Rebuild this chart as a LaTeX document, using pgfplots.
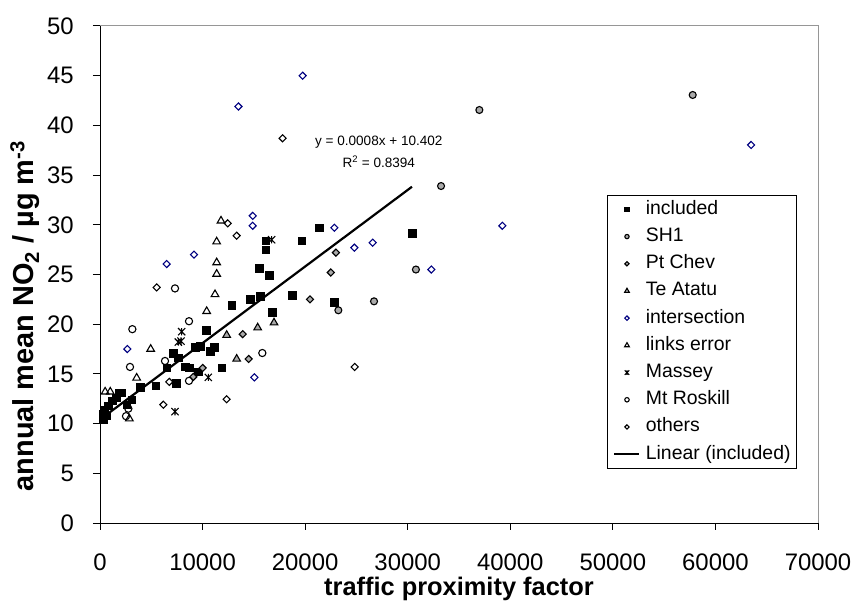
\documentclass[border=0pt]{standalone}
\usepackage{fontspec}
\setmainfont{Liberation Sans}
\usepackage{pgfplots}
\pgfplotsset{compat=1.18}
\definecolor{mygray}{RGB}{170,170,170}
\definecolor{navy}{RGB}{0,0,128}
\definecolor{bordergray}{RGB}{150,150,150}
\pgfdeclareplotmark{xstar}{%
 \pgfpathmoveto{\pgfqpoint{-\pgfplotmarksize}{-\pgfplotmarksize}}\pgfpathlineto{\pgfqpoint{\pgfplotmarksize}{\pgfplotmarksize}}%
 \pgfpathmoveto{\pgfqpoint{-\pgfplotmarksize}{\pgfplotmarksize}}\pgfpathlineto{\pgfqpoint{\pgfplotmarksize}{-\pgfplotmarksize}}%
 \pgfpathmoveto{\pgfqpoint{0pt}{-\pgfplotmarksize}}\pgfpathlineto{\pgfqpoint{0pt}{\pgfplotmarksize}}%
 \pgfusepathqstroke}
\pgfplotsset{
 legmark/.style={legend image code/.code={\draw[mark repeat=2,mark phase=2,##1,every mark/.append style={scale=0.62}] plot coordinates {(0bp,0bp) (12.5bp,0bp) (25bp,0bp)};}},
 legline/.style={legend image code/.code={\draw[##1] (0bp,0bp) -- (25bp,0bp);}},
 inc/.style={legmark,only marks, mark=square*, mark size=3.8bp, mark options={fill=black, draw=black, line width=0.6bp}},
 sh1/.style={legmark,only marks, mark=*, mark size=3.5bp, mark options={fill=mygray, draw=black, line width=1.1bp}},
 ptc/.style={legmark,only marks, mark=square*, mark size=2.5bp, mark options={rotate=45, fill=mygray, draw=black, line width=1.1bp}},
 tea/.style={legmark,only marks, mark=triangle*, mark size=4.4bp, mark options={fill=mygray, draw=black, line width=1.1bp}},
 int/.style={legmark,only marks, mark=square, mark size=2.5bp, mark options={rotate=45, draw=navy, line width=1.1bp}},
 lnk/.style={legmark,only marks, mark=triangle, mark size=4.4bp, mark options={draw=black, line width=1.1bp}},
 mas/.style={legmark,only marks, mark=xstar, mark size=3.6bp, mark options={draw=black, line width=1.1bp}},
 mtr/.style={legmark,only marks, mark=o, mark size=3.6bp, mark options={draw=black, line width=1.1bp}},
 oth/.style={legmark,only marks, mark=square, mark size=2.5bp, mark options={rotate=45, draw=black, line width=1.1bp}},
}
\begin{document}
\begin{tikzpicture}
\useasboundingbox (0,0) rectangle (852bp,602bp);
\begin{axis}[
 at={(100bp,79bp)}, anchor=south west,
 scale only axis, width=718bp, height=497bp,
 xmin=0, xmax=70000, ymin=0, ymax=50,
 xtick={0,10000,...,70000}, ytick={0,5,...,50},
 scaled x ticks=false,
 /pgf/number format/.cd, 1000 sep={}, assume math mode=true, /pgfplots/.cd,
 axis lines=left, axis line style={-, black, line width=1bp},
 tick align=outside, major tick length=7bp, tick style={black, line width=1bp},
 ticklabel style={font=\fontsize{24}{28}\selectfont, inner sep=0pt},
 yticklabel style={anchor=east, xshift=-19bp},
 xticklabel style={anchor=north, yshift=-24bp},
 xlabel={\bfseries traffic proximity factor},
 ylabel={\bfseries annual mean NO\textsubscript{2} / µg m\textsuperscript{-3}},
 xlabel style={font=\fontsize{25.5}{30}\selectfont, at={(rel axis cs:0.5,0)}, anchor=base, yshift=-72bp},
 ylabel style={font=\fontsize{29}{34}\selectfont, at={(rel axis cs:-0.1045,0.4165)}, anchor=center},
 legend cell align=left,
 legend style={at={(rel axis cs:0.7061,0.6600)}, anchor=north west, draw=black, line width=0.8bp,
   font=\fontsize{19.5}{23}\selectfont, inner xsep=6bp, inner ysep=5bp,
   nodes={inner sep=0pt, text height=14bp, text depth=4bp}, row sep=9.2bp, column sep=5.3bp},
 clip=false,
 after end axis/.code={\draw[bordergray, line width=1bp] (rel axis cs:0,1) -- (rel axis cs:1,1) -- (rel axis cs:1,0);},
]
\addplot[inc] coordinates {
(300,10.4) (600,10.8) (300,11.0) (400,11.4) (800,11.8) (1200,12.3) (1600,12.6) (1900,13.1)
(12840,21.9) (14625,22.5) (15600,22.8) (16800,21.2) (10335,19.4) (9262,17.7) (9750,17.8)
(10725,17.3) (11115,17.7) (7150,17.1) (7637,16.6) (6500,15.6) (8287,15.7) (8710,15.6)
(9587,15.2) (11865,15.6) (7410,14.05) (5427,13.8) (3900,13.65) (2112,13.1) (3087,12.4)
(2600,11.9) (18750,22.9) (22815,22.2) (16152,28.4) (16152,27.5) (19662,28.4) (21385,29.7)
(15535,25.6) (16510,24.9) (30420,29.15)
};
\addlegendentry{included}
\addplot[sh1] coordinates {(23237,21.4) (26715,22.3) (36985,41.55) (33250,33.9) (57785,43.06) (30800,25.5)};
\addlegendentry{SH1}
\addplot[ptc] coordinates {(13910,19.0) (14495,16.5) (10010,15.6) (9100,14.7) (20475,22.5) (22500,25.2) (23000,27.2)};
\addlegendentry{Pt Chev}
\addplot[tea] coordinates {(16965,20.15) (12350,18.9) (15372,19.65) (13325,16.5)};
\addlegendentry{Te Atatu}
\addplot[int] coordinates {(2665,17.5) (15050,14.65) (14885,30.9) (14885,29.9) (9165,27.0) (6500,26.05) (19760,45.0) (22847,29.7) (39225,29.9) (26585,28.2) (63472,38.03) (24800,27.7) (32300,25.5) (13500,41.9)};
\addlegendentry{intersection}
\addplot[lnk] coordinates {(11212,23.0) (10400,21.3) (4940,17.5) (3575,14.6) (2860,10.5) (11797,30.4) (11375,28.3) (11375,26.2) (11375,25.05) (500,13.2) (1000,13.2)};
\addlegendentry{links error}
\addplot[mas] coordinates {(7962,19.25) (7637,18.2) (7897,18.3) (10562,14.65) (7312,11.2) (16737,28.5)};
\addlegendentry{Massey}
\addplot[mtr] coordinates {(7312,23.6) (8678,20.3) (3153,19.5) (15825,17.1) (6337,16.3) (2925,15.7) (8677,14.3) (2762,11.5) (2535,10.75)};
\addlegendentry{Mt Roskill}
\addplot[oth] coordinates {(5525,23.7) (12350,12.45) (6175,11.9) (6760,14.2) (24830,15.7) (12450,30.15) (13325,28.9) (17800,38.7)};
\addlegendentry{others}
\addplot[legline, black, line width=2.2bp] coordinates {(300,10.63) (30420,33.83)};
\addlegendentry{Linear (included)}
\node[font=\fontsize{13.6}{16}\selectfont, anchor=center] at (axis cs:27183,38.33) {y = 0.0008x + 10.402};
\node[font=\fontsize{13.6}{16}\selectfont, anchor=center] at (axis cs:27183,36.35) {R\textsuperscript{2} = 0.8394};
\end{axis}
\end{tikzpicture}
\end{document}
